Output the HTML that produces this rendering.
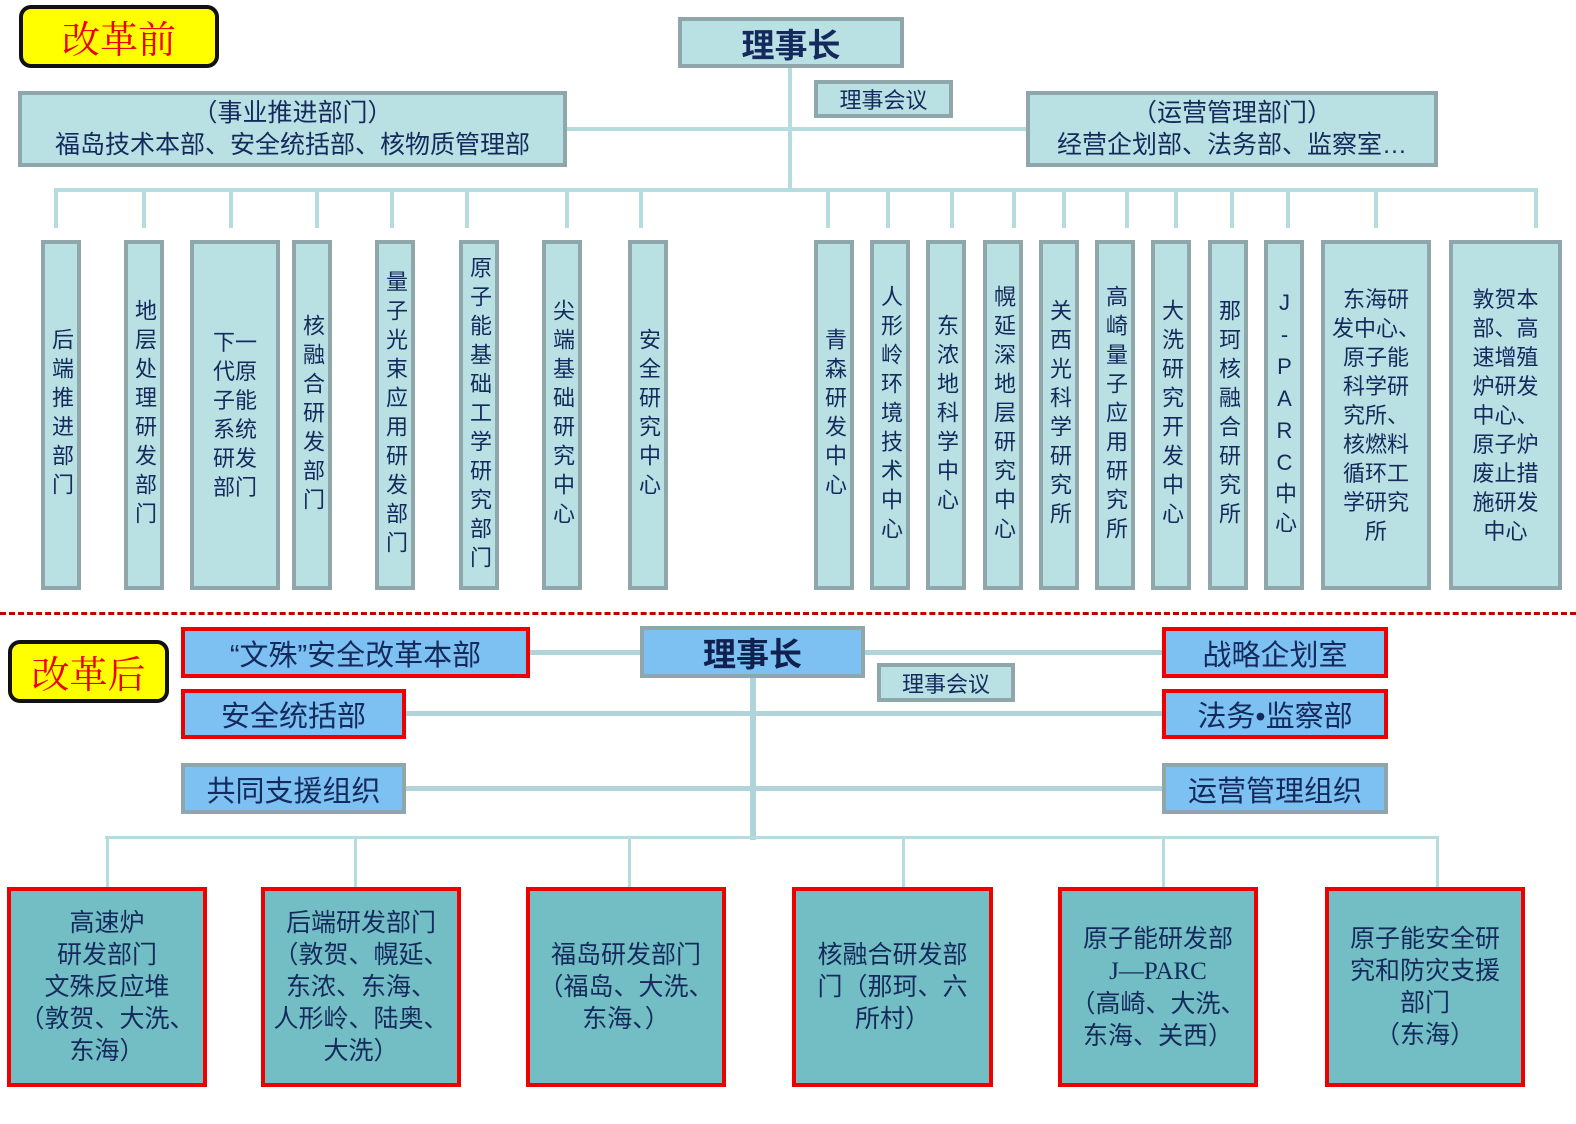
<!DOCTYPE html>
<html><head><meta charset="utf-8"><style>
body{margin:0;width:1576px;height:1124px;background:#fff;position:relative;overflow:hidden;font-family:"Liberation Sans","Noto Sans CJK SC",sans-serif;color:#152a5c}
.a{position:absolute;box-sizing:border-box}
.t{background:#b9e0e3;border:4px solid #8fa6aa;display:flex;align-items:center;justify-content:center;text-align:center}
.v{writing-mode:vertical-rl;text-orientation:upright;font-size:22px;letter-spacing:7px;line-height:24px}
.h{font-size:22px;line-height:29px}
.l{position:absolute;background:#b5dde0}
.b{background:#7dc1f2;border:4px solid #ee0000;display:flex;align-items:center;justify-content:center;font-size:29px}
.g{border-color:#8fa6aa}
.k{background:#73bec4;border:4px solid #ee0000;display:flex;align-items:center;justify-content:center;text-align:center;font-size:25px;line-height:32px}
.y{background:#ffff00;border:4px solid #111;border-radius:12px;color:#ee0000;font-size:38px;display:flex;align-items:center;justify-content:center;font-family:"Noto Serif CJK SC",serif}
</style></head><body>
<div class="a y" style="left:19px;top:5px;width:200px;height:63px">改革前</div>
<div class="l" style="left:788px;top:67px;width:4px;height:125px"></div>
<div class="l" style="left:566px;top:127px;width:460px;height:4px"></div>
<div class="l" style="left:54px;top:188px;width:1484px;height:4px"></div>
<div class="a t" style="left:678px;top:17px;width:226px;height:51px;font-size:33px;font-weight:bold">理事长</div>
<div class="a t" style="left:814px;top:80px;width:139px;height:38px;font-size:22px">理事会议</div>
<div class="a t" style="left:18px;top:91px;width:549px;height:76px;font-size:25px;line-height:32px"><div>（事业推进部门）<br>福岛技术本部、安全统括部、核物质管理部</div></div>
<div class="a t" style="left:1026px;top:91px;width:412px;height:76px;font-size:25px;line-height:32px"><div>（运营管理部门）<br>经营企划部、法务部、监察室…</div></div>
<div id="cols"></div>
<div class="a" style="left:0;top:612px;width:1576px;height:0;border-top:3px dashed #c00000"></div>
<div class="a y" style="left:8px;top:640px;width:161px;height:63px">改革后</div>
<div class="l" style="left:528px;top:650px;width:634px;height:5px;background:#b0d4d8"></div>
<div class="l" style="left:405px;top:711px;width:757px;height:5px;background:#b0d4d8"></div>
<div class="l" style="left:405px;top:786px;width:757px;height:5px;background:#b0d4d8"></div>
<div class="l" style="left:750px;top:677px;width:6px;height:163px;background:#b0d4d8"></div>
<div class="l" style="left:105px;top:836px;width:1334px;height:3px"></div>
<div class="a b g" style="left:640px;top:626px;width:225px;height:52px;font-size:33px;font-weight:bold;color:#10204f">理事长</div>
<div class="a t" style="left:877px;top:663px;width:138px;height:39px;font-size:22px">理事会议</div>
<div class="a b" style="left:181px;top:627px;width:349px;height:51px">“文殊”安全改革本部</div>
<div class="a b" style="left:1162px;top:627px;width:226px;height:51px">战略企划室</div>
<div class="a b" style="left:181px;top:689px;width:225px;height:50px">安全统括部</div>
<div class="a b" style="left:1162px;top:689px;width:226px;height:50px">法务•监察部</div>
<div class="a b g" style="left:181px;top:763px;width:225px;height:51px">共同支援组织</div>
<div class="a b g" style="left:1162px;top:763px;width:226px;height:51px">运营管理组织</div>
<div class="l" style="left:106px;top:838px;width:3px;height:50px"></div>
<div class="l" style="left:354px;top:838px;width:3px;height:50px"></div>
<div class="l" style="left:628px;top:838px;width:3px;height:50px"></div>
<div class="l" style="left:902px;top:838px;width:3px;height:50px"></div>
<div class="l" style="left:1162px;top:838px;width:3px;height:50px"></div>
<div class="l" style="left:1436px;top:838px;width:3px;height:50px"></div>
<div class="a k" style="left:7px;top:887px;width:200px;height:200px"><div>高速炉<br>研发部门<br>文殊反应堆<br>（敦贺、大洗、<br>东海）</div></div>
<div class="a k" style="left:261px;top:887px;width:200px;height:200px"><div>后端研发部门<br>（敦贺、幌延、<br>东浓、东海、<br>人形岭、陆奥、<br>大洗）</div></div>
<div class="a k" style="left:526px;top:887px;width:200px;height:200px"><div>福岛研发部门<br>（福岛、大洗、<br>东海、）</div></div>
<div class="a k" style="left:792px;top:887px;width:201px;height:200px"><div>核融合研发部<br>门（那珂、六<br>所村）</div></div>
<div class="a k" style="left:1058px;top:887px;width:200px;height:200px"><div>原子能研发部<br><span style="font-family:'Liberation Serif',serif">J—PARC</span><br>（高崎、大洗、<br>东海、关西）</div></div>
<div class="a k" style="left:1325px;top:887px;width:200px;height:200px"><div>原子能安全研<br>究和防灾支援<br>部门<br>（东海）</div></div>
<script>
var C=[[41,80,56,"后端推进部门"],[124,163,144,"地层处理研发部门"],[190,279,231,"下一<br>代原<br>子能<br>系统<br>研发<br>部门",1],[292,331,317,"核融合研发部门"],[375,414,392,"量子光束应用研发部门"],[459,498,467,"原子能基础工学研究部门"],[542,581,567,"尖端基础研究中心"],[628,667,641,"安全研究中心"],[814,853,828,"青森研发中心"],[870,909,888,"人形岭环境技术中心"],[926,965,952,"东浓地科学中心"],[983,1022,1014,"幌延深地层研究中心"],[1039,1078,1064,"关西光科学研究所"],[1095,1134,1127,"高崎量子应用研究所"],[1151,1190,1176,"大洗研究开发中心"],[1208,1247,1232,"那珂核融合研究所"],[1264,1303,1288,"J-PARC中心"],[1321,1430,1376,"东海研<br>发中心、<br>原子能<br>科学研<br>究所、<br>核燃料<br>循环工<br>学研究<br>所",1],[1449,1561,1536,"敦贺本<br>部、高<br>速增殖<br>炉研发<br>中心、<br>原子炉<br>废止措<br>施研发<br>中心",1]];
var s="";C.forEach(function(c){s+='<div class="l" style="left:'+(c[2]-2)+'px;top:190px;width:4px;height:38px"></div>';
s+='<div class="a t" style="left:'+c[0]+'px;top:240px;width:'+(c[1]-c[0]+1)+'px;height:350px"><div class="'+(c[4]?'h':'v')+'">'+c[3]+'</div></div>';});
document.getElementById("cols").innerHTML=s;
</script>
</body></html>
